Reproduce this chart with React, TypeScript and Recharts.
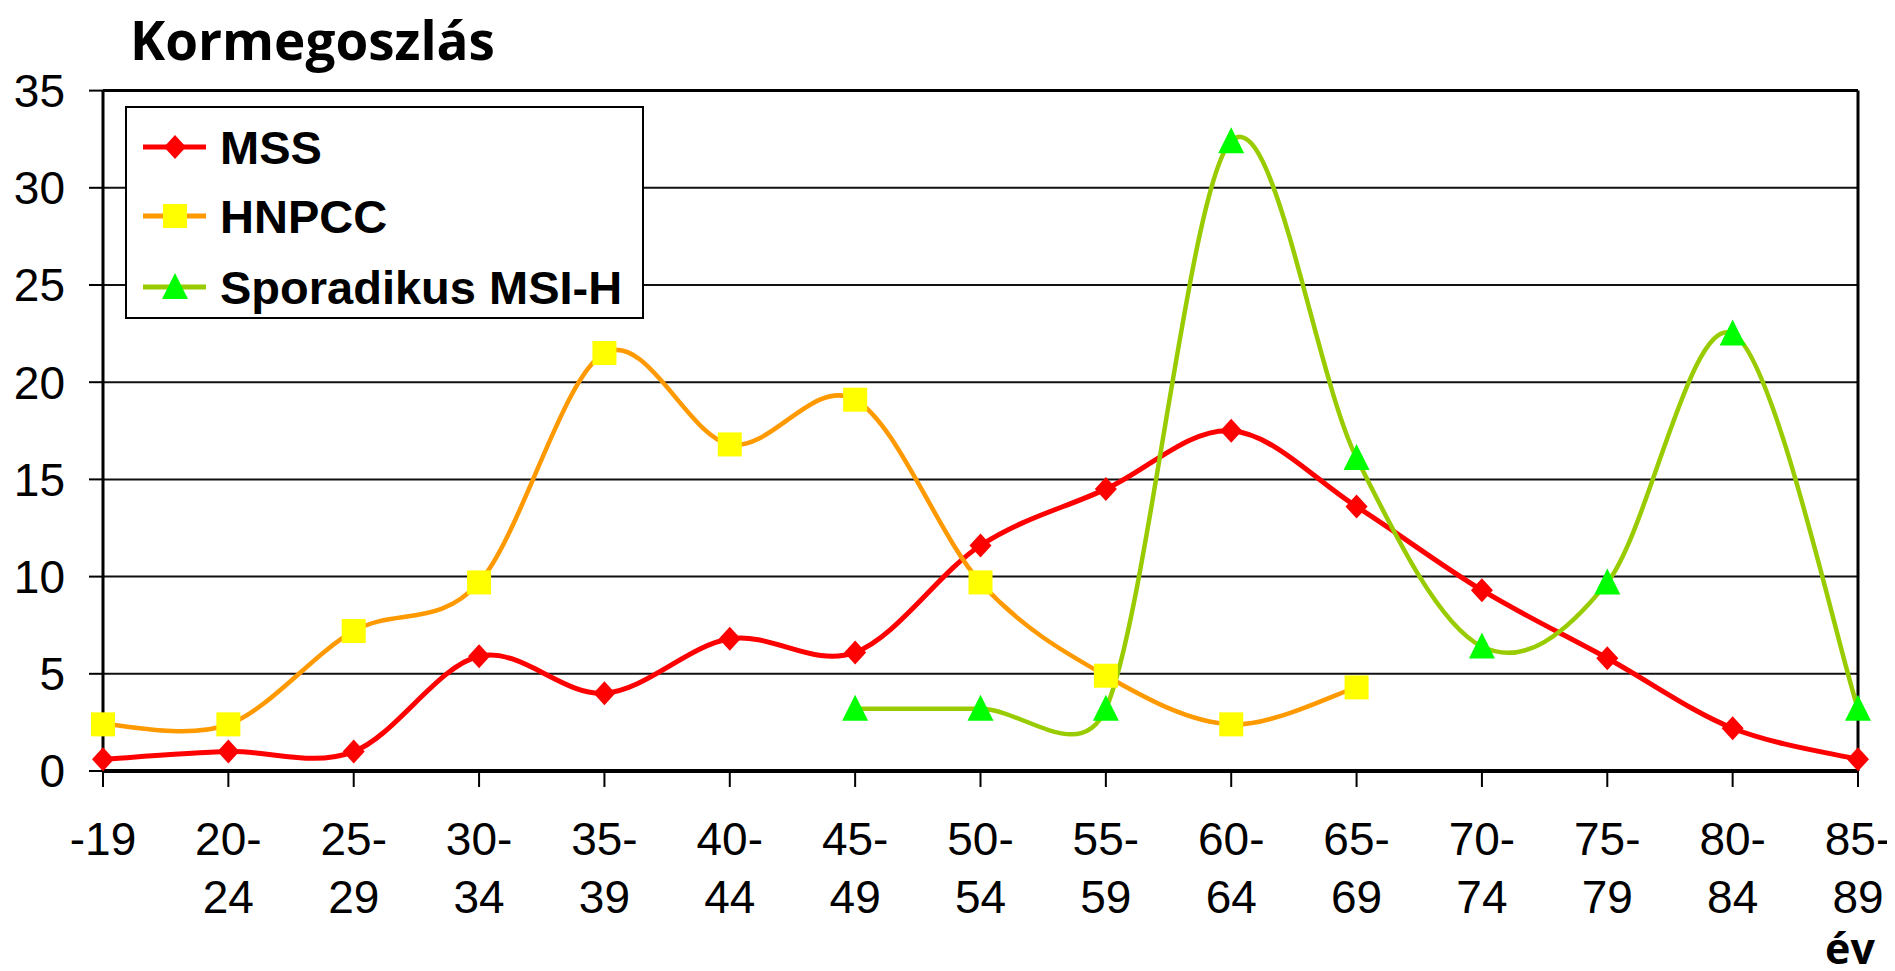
import React from 'react';
import {
  LineChart,
  Line,
  XAxis,
  YAxis,
  CartesianGrid,
  ReferenceLine,
} from 'recharts';

const categories = [
  '-19', '20-24', '25-29', '30-34', '35-39', '40-44', '45-49', '50-54',
  '55-59', '60-64', '65-69', '70-74', '75-79', '80-84', '85-89',
];
const mss = [0.6, 1.0, 1.0, 5.9, 4.0, 6.8, 6.1, 11.6, 14.5, 17.5, 13.6, 9.3, 5.8, 2.2, 0.6];
const hnpcc = [2.4, 2.4, 7.2, 9.7, 21.5, 16.8, 19.1, 9.7, 4.9, 2.4, 4.3, null, null, null, null];
const sporadic = [null, null, null, null, null, null, 3.2, 3.2, 3.2, 32.4, 16.1, 6.4, 9.7, 22.5, 3.2];
const yTicks = [0, 5, 10, 15, 20, 25, 30, 35];

const data = categories.map((cat, i) => ({
  cat,
  mss: mss[i],
  hnpcc: hnpcc[i],
  sporadic: sporadic[i],
}));

const W = 1880;
const H = 963;

const dist = (a: number[], b: number[]) => Math.hypot(b[0] - a[0], b[1] - a[1]);

// Excel-style smoothed line: bezier with 1/6 tangents, arm clamped to half the segment
function excelSmooth(context: any) {
  let pts: number[][] = [];
  return {
    areaStart() {},
    areaEnd() {},
    lineStart() {
      pts = [];
    },
    point(x: number, y: number) {
      pts.push([+x, +y]);
    },
    lineEnd() {
      const n = pts.length;
      if (!n) return;
      context.moveTo(pts[0][0], pts[0][1]);
      for (let i = 0; i < n - 1; i++) {
        const p0 = pts[Math.max(i - 1, 0)];
        const p1 = pts[i];
        const p2 = pts[i + 1];
        const p3 = pts[Math.min(i + 2, n - 1)];
        const d12 = dist(p1, p2);
        const d02 = dist(p0, p2);
        const d13 = dist(p1, p3);
        const f1 = d02 > 0 ? Math.min(1 / 6, d12 / 2 / d02) : 0;
        const f2 = d13 > 0 ? Math.min(1 / 6, d12 / 2 / d13) : 0;
        context.bezierCurveTo(
          p1[0] + (p2[0] - p0[0]) * f1,
          p1[1] + (p2[1] - p0[1]) * f1,
          p2[0] - (p3[0] - p1[0]) * f2,
          p2[1] - (p3[1] - p1[1]) * f2,
          p2[0],
          p2[1],
        );
      }
    },
  };
}

const diamond = (cx: number, cy: number) =>
  `${cx},${cy - 12} ${cx + 11},${cy} ${cx},${cy + 12} ${cx - 11},${cy}`;
const triangle = (cx: number, cy: number) =>
  `${cx},${cy - 14} ${cx + 13},${cy + 12} ${cx - 13},${cy + 12}`;

function DiamondDot(props: any) {
  const { cx, cy, value } = props;
  if (cx == null || cy == null || value == null) return <g />;
  return <polygon points={diamond(cx, cy)} fill="#FF0000" />;
}

function SquareDot(props: any) {
  const { cx, cy, value } = props;
  if (cx == null || cy == null || value == null) return <g />;
  return <rect x={cx - 12} y={cy - 12} width={24} height={24} fill="#FFFF00" />;
}

function TriangleDot(props: any) {
  const { cx, cy, value } = props;
  if (cx == null || cy == null || value == null) return <g />;
  return <polygon points={triangle(cx, cy)} fill="#00FF00" />;
}

function AgeTick(props: any) {
  const { x, payload } = props;
  const label: string = payload.value;
  const dash = label.indexOf('-');
  const first = dash > 0 ? label.slice(0, dash + 1) : label;
  const second = dash > 0 ? label.slice(dash + 1) : '';
  return (
    <text
      x={x}
      textAnchor="middle"
      fontFamily="'Liberation Sans', Arial, sans-serif"
      fontSize={46}
      fill="#000"
    >
      <tspan x={x} y={847}>{first}</tspan>
      {second && <tspan x={x} y={905}>{second}</tspan>}
    </text>
  );
}

const legendItems = [
  { name: 'MSS', stroke: '#FF0000', marker: 'diamond', y: 139 },
  { name: 'HNPCC', stroke: '#FF9900', marker: 'square', y: 208 },
  { name: 'Sporadikus MSI-H', stroke: '#99CC00', marker: 'triangle', y: 279 },
];

export default function App() {
  return (
    <div style={{ position: 'relative', width: W, height: H }}>
      <style>{'.recharts-surface { overflow: visible; }'}</style>
      <LineChart
        width={W}
        height={H}
        data={data}
        margin={{ top: 82.6, right: 30, left: 0, bottom: 0 }}
      >
        <CartesianGrid vertical={false} stroke="#111" strokeWidth={2} />
        <XAxis
          dataKey="cat"
          interval={0}
          height={200}
          tickSize={16}
          axisLine={{ stroke: '#000', strokeWidth: 4 }}
          tickLine={{ stroke: '#000', strokeWidth: 2 }}
          tick={<AgeTick />}
        />
        <YAxis
          domain={[0, 35]}
          ticks={yTicks}
          width={95}
          tickSize={14}
          tickMargin={24}
          axisLine={{ stroke: '#000', strokeWidth: 3 }}
          tickLine={{ stroke: '#000', strokeWidth: 2 }}
          tick={{ fill: '#000', fontSize: 46, fontFamily: "'Liberation Sans', Arial, sans-serif" }}
        />
        <ReferenceLine y={35} stroke="#000" strokeWidth={3} />
        <ReferenceLine x="85-89" stroke="#000" strokeWidth={3} />
        <Line
          dataKey="mss"
          type={excelSmooth as any}
          stroke="#FF0000"
          strokeWidth={5}
          dot={<DiamondDot />}
          activeDot={false}
          isAnimationActive={false}
        />
        <Line
          dataKey="hnpcc"
          type={excelSmooth as any}
          stroke="#FF9900"
          strokeWidth={4.5}
          dot={<SquareDot />}
          activeDot={false}
          isAnimationActive={false}
        />
        <Line
          dataKey="sporadic"
          type={excelSmooth as any}
          stroke="#99CC00"
          strokeWidth={4.5}
          dot={<TriangleDot />}
          activeDot={false}
          isAnimationActive={false}
        />
      </LineChart>

      <svg
        width={W}
        height={H}
        style={{ position: 'absolute', left: 0, top: 0, pointerEvents: 'none', overflow: 'visible' }}
      >
        <text
          x={122}
          y={52}
          fontFamily="'Open Sans', sans-serif"
          fontWeight={700}
          fontSize={53}
          fill="#000"
        >
          Kormegoszlás
        </text>
        <text
          x={1842}
          y={956}
          textAnchor="middle"
          fontFamily="'Open Sans', sans-serif"
          fontWeight={700}
          fontSize={43}
          fill="#000"
        >
          év
        </text>

        <rect x={118} y={99} width={517} height={211} fill="#fff" stroke="#000" strokeWidth={2} />
        {legendItems.map((it) => (
          <g key={it.name}>
            <line x1={135} x2={198} y1={it.y} y2={it.y} stroke={it.stroke} strokeWidth={5} />
            {it.marker === 'diamond' && <polygon points={diamond(167, it.y)} fill="#FF0000" />}
            {it.marker === 'square' && (
              <rect x={155} y={it.y - 12} width={24} height={24} fill="#FFFF00" />
            )}
            {it.marker === 'triangle' && <polygon points={triangle(167, it.y)} fill="#00FF00" />}
            <text
              x={212}
              y={it.y}
              dy="0.36em"
              fontFamily="'Liberation Sans', Arial, sans-serif"
              fontWeight={700}
              fontSize={47}
              fill="#000"
            >
              {it.name}
            </text>
          </g>
        ))}
      </svg>
    </div>
  );
}
